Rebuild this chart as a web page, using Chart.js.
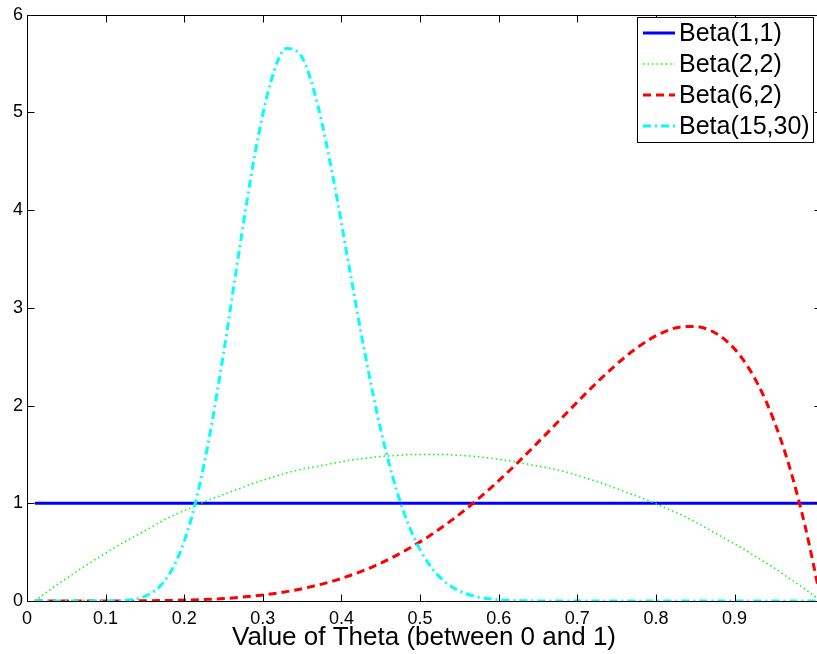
<!DOCTYPE html>
<html>
<head>
<meta charset="utf-8">
<script src="https://cdn.jsdelivr.net/npm/chart.js@4"></script>
<style>
  html, body { margin: 0; padding: 0; background: #fff; overflow: hidden; }
  #wrap { width: 824px; height: 654px; }
</style>
</head>
<body>
<div id="wrap"><canvas id="betaChart" width="824" height="654"></canvas></div>
<script>
// theta positions of the samples
const thetaValues = [
  0.01, 0.03, 0.05, 0.07, 0.09, 0.11, 0.13, 0.15, 0.17, 0.19,
  0.21, 0.23, 0.25, 0.27, 0.29, 0.31, 0.33, 0.35, 0.37, 0.39,
  0.41, 0.43, 0.45, 0.47, 0.49, 0.51, 0.53, 0.55, 0.57, 0.59,
  0.61, 0.63, 0.65, 0.67, 0.69, 0.71, 0.73, 0.75, 0.77, 0.79,
  0.81, 0.83, 0.85, 0.87, 0.89, 0.91, 0.93, 0.95, 0.97, 0.99, 1.01
];

const beta11 = [
  1, 1, 1, 1, 1, 1, 1, 1, 1, 1,
  1, 1, 1, 1, 1, 1, 1, 1, 1, 1,
  1, 1, 1, 1, 1, 1, 1, 1, 1, 1,
  1, 1, 1, 1, 1, 1, 1, 1, 1, 1,
  1, 1, 1, 1, 1, 1, 1, 1, 1, 1, 1
];

const beta22 = [
  0, 0.12, 0.23, 0.34, 0.44, 0.54, 0.63, 0.72, 0.81, 0.89,
  0.96, 1.03, 1.09, 1.15, 1.21, 1.26, 1.31, 1.35, 1.38, 1.41,
  1.44, 1.46, 1.48, 1.49, 1.50, 1.50, 1.50, 1.49, 1.48, 1.46,
  1.44, 1.41, 1.38, 1.35, 1.31, 1.26, 1.21, 1.15, 1.09, 1.03,
  0.96, 0.89, 0.81, 0.72, 0.63, 0.54, 0.44, 0.34, 0.23, 0.12, 0
];

const beta62 = [
  0, 0, 0, 0, 0, 0, 0.001, 0.002, 0.004, 0.007,
  0.011, 0.017, 0.025, 0.037, 0.052, 0.071, 0.096, 0.126, 0.163, 0.206,
  0.258, 0.318, 0.388, 0.467, 0.557, 0.656, 0.767, 0.887, 1.018, 1.158,
  1.306, 1.462, 1.624, 1.788, 1.954, 2.118, 2.276, 2.423, 2.556, 2.668,
  2.753, 2.803, 2.810, 2.766, 2.660, 2.480, 2.215, 1.849, 1.370, 0.759, 0
];

const beta1530 = [
  0, 0, 0, 0, 0, 0.002, 0.011, 0.048, 0.158, 0.409,
  0.874, 1.593, 2.537, 3.590, 4.577, 5.311, 5.656, 5.562, 5.072, 4.305,
  3.411, 2.527, 1.752, 1.137, 0.691, 0.392, 0.208, 0.103, 0.047, 0.020,
  0.008, 0.003, 0.001, 0, 0, 0, 0, 0, 0, 0,
  0, 0, 0, 0, 0, 0, 0, 0, 0, 0, 0
];

const seriesNames = ["Beta(1,1)", "Beta(2,2)", "Beta(6,2)", "Beta(15,30)"];

const xTickValues = [0, 0.1, 0.2, 0.3, 0.4, 0.5, 0.6, 0.7, 0.8, 0.9];
const xTickLabels = ["0", "0.1", "0.2", "0.3", "0.4", "0.5", "0.6", "0.7", "0.8", "0.9"];
const yTickValues = [0, 1, 2, 3, 4, 5, 6];
const yTickLabels = ["0", "1", "2", "3", "4", "5", "6"];

const FONT = "'Liberation Sans', Arial, Helvetica, sans-serif";

function toPoints(values) {
    return thetaValues.map((t, i) => ({ x: t, y: values[i] }));
}

// box around the axes, inward tick marks and the boxed legend
const framePlugin = {
    id: "frame",
    afterDatasetsDraw(chart) {
        const { ctx, chartArea: a, scales } = chart;
        const sx = scales.x, sy = scales.y;
        const left = Math.round(a.left) + 0.5;
        const right = Math.round(a.right) + 0.5;
        const top = Math.round(a.top) + 0.5;
        const bottom = Math.round(a.bottom) + 0.5;
        const tickLen = 7;

        ctx.save();
        ctx.strokeStyle = "#000";
        ctx.lineWidth = 1;
        ctx.setLineDash([]);
        ctx.beginPath();
        ctx.rect(left, top, right - left, bottom - top);
        xTickValues.forEach((v) => {
            const px = Math.round(sx.getPixelForValue(v)) + 0.5;
            ctx.moveTo(px, bottom);
            ctx.lineTo(px, bottom - tickLen);
            ctx.moveTo(px, top);
            ctx.lineTo(px, top + tickLen);
        });
        yTickValues.forEach((v) => {
            const py = Math.round(sy.getPixelForValue(v)) + 0.5;
            ctx.moveTo(left, py);
            ctx.lineTo(left + tickLen, py);
            ctx.moveTo(right, py);
            ctx.lineTo(right - tickLen, py);
        });
        ctx.stroke();
        ctx.restore();
    },
    afterDraw(chart) {
        const { ctx } = chart;
        const box = { x: 637.5, y: 17.5, w: 176, h: 125 };
        ctx.save();
        ctx.fillStyle = "#fff";
        ctx.fillRect(box.x, box.y, box.w, box.h);
        ctx.strokeStyle = "#000";
        ctx.lineWidth = 1;
        ctx.strokeRect(box.x, box.y, box.w, box.h);

        ctx.font = "25px " + FONT;
        ctx.textBaseline = "middle";
        ctx.fillStyle = "#000";
        chart.data.datasets.forEach((ds, i) => {
            const ly = 33 + i * 31;
            ctx.save();
            ctx.strokeStyle = ds.borderColor;
            ctx.lineWidth = ds.borderWidth;
            ctx.setLineDash(ds.borderDash || []);
            ctx.beginPath();
            ctx.moveTo(643, ly);
            ctx.lineTo(675, ly);
            ctx.stroke();
            ctx.restore();
            ctx.fillText(ds.label, 679, ly + 1);
        });
        ctx.restore();
    },
};

const ctx = document.getElementById("betaChart").getContext("2d");

new Chart(ctx, {
    type: "line",
    data: {
        datasets: [
            {
                label: seriesNames[0],
                data: toPoints(beta11),
                borderColor: "#0000ff",
                borderWidth: 3,
                borderDash: [],
                order: 4,
            },
            {
                label: seriesNames[1],
                data: toPoints(beta22),
                borderColor: "#00ff00",
                borderWidth: 1.5,
                borderDash: [1.5, 3],
                order: 3,
            },
            {
                label: seriesNames[2],
                data: toPoints(beta62),
                borderColor: "#ff0000",
                borderWidth: 3,
                borderDash: [8, 5],
                order: 2,
            },
            {
                label: seriesNames[3],
                data: toPoints(beta1530),
                borderColor: "#00ffff",
                borderWidth: 3,
                borderDash: [8, 4, 2, 4],
                order: 1,
            },
        ],
    },
    options: {
        responsive: false,
        animation: false,
        devicePixelRatio: 1,
        layout: { padding: { top: 12, right: 3, left: 0, bottom: 0 } },
        elements: {
            point: { radius: 0, hoverRadius: 0 },
            line: { cubicInterpolationMode: "monotone", fill: false },
        },
        plugins: {
            legend: { display: false },
            tooltip: { enabled: false },
        },
        scales: {
            x: {
                type: "linear",
                min: 0,
                max: 1.01,
                afterBuildTicks: (scale) => {
                    scale.ticks = xTickValues.map((v) => ({ value: v }));
                },
                afterFit: (scale) => {
                    scale.height = 53;
                },
                grid: { display: false, drawTicks: false },
                border: { display: false },
                ticks: {
                    color: "#000",
                    font: { family: FONT, size: 18 },
                    padding: 7,
                    maxRotation: 0,
                    autoSkip: false,
                    callback: (v, i) => xTickLabels[i],
                },
                title: {
                    display: true,
                    text: "Value of Theta (between 0 and 1)",
                    color: "#000",
                    font: { family: FONT, size: 26 },
                    padding: { top: 0, bottom: 1 },
                },
            },
            y: {
                min: 0,
                max: 6,
                afterBuildTicks: (scale) => {
                    scale.ticks = yTickValues.map((v) => ({ value: v }));
                },
                afterFit: (scale) => {
                    scale.width = 27;
                },
                grid: { display: false, drawTicks: false },
                border: { display: false },
                ticks: {
                    color: "#000",
                    font: { family: FONT, size: 18 },
                    padding: 4,
                    autoSkip: false,
                    callback: (v, i) => yTickLabels[i],
                },
            },
        },
    },
    plugins: [framePlugin],
});
</script>
</body>
</html>
